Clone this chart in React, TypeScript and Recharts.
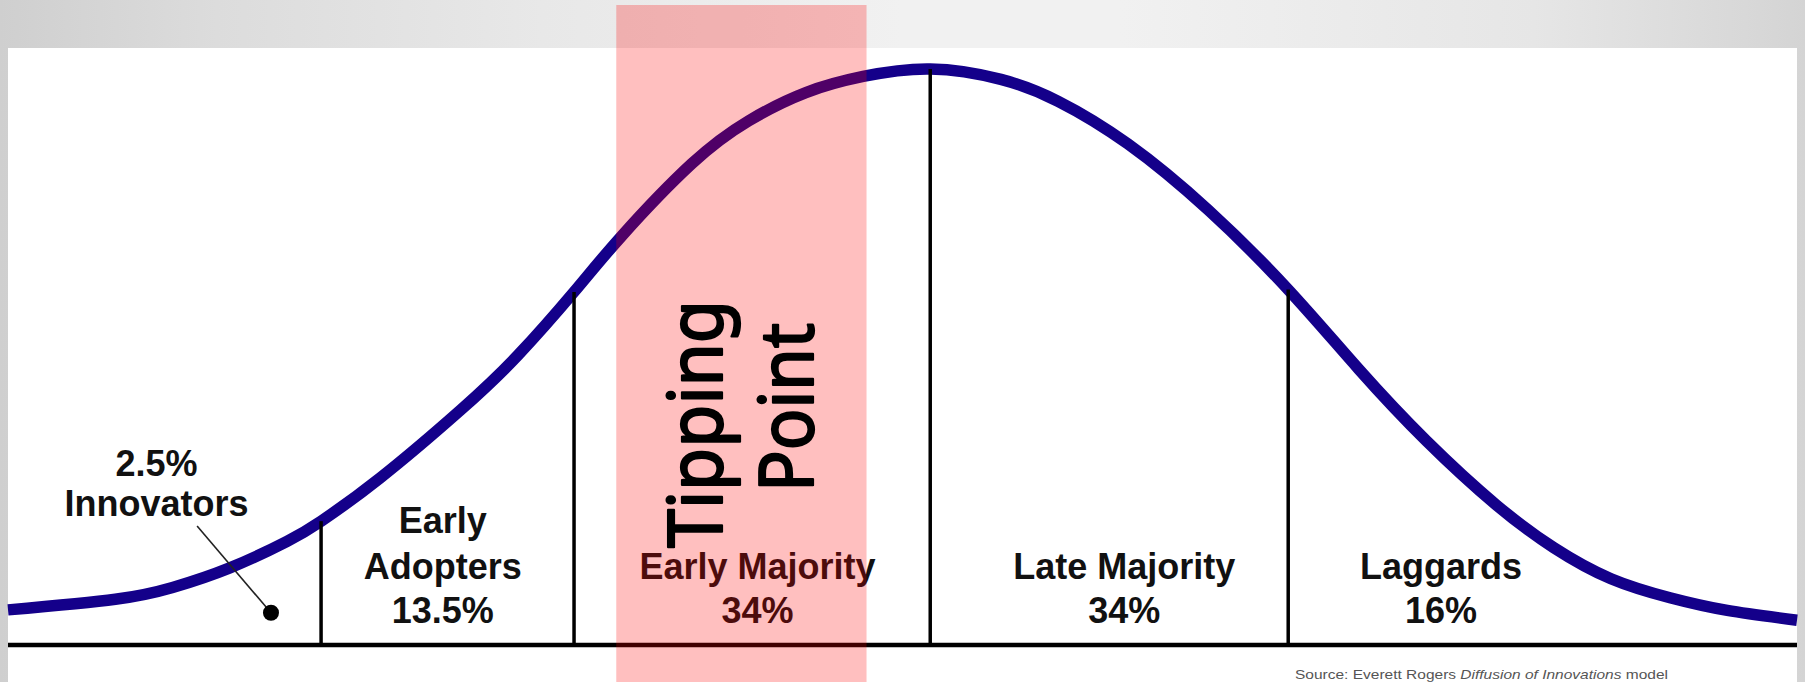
import React from 'react';
import { ComposedChart, Line, XAxis, YAxis, ReferenceLine, ReferenceArea, ReferenceDot } from 'recharts';

// Adoption curve (x: position along the adoption timeline 0-100, v: relative share, peak = 100)
const curveX = [0, 6, 9.2, 12.4, 15.6, 17.5, 20.8, 25.3, 28.5, 31.64, 34.3, 38.2, 41.4, 44.6, 47.8, 51.55, 55.5, 58.7, 62.6, 67.1, 71.56, 75.5, 79.3, 83.2, 86.4, 89.6, 92.9, 96.1, 100];
const curveV = [6.1, 7.95, 10.0, 13.4, 18.0, 21.5, 29.0, 40.8, 50.3, 61.3, 71.0, 83.5, 91.0, 95.9, 98.7, 100, 98.2, 94.4, 87.0, 75.5, 61.7, 47.9, 35.4, 24.3, 16.9, 11.5, 8.2, 6.0, 4.3];

// Segment boundaries along x
const boundaryX = [17.5, 31.64, 51.55, 71.56];

// Segments
const segmentNames = ['Innovators', 'Early Adopters', 'Early Majority', 'Late Majority', 'Laggards'];
const segmentShares = ['2.5%', '13.5%', '34%', '34%', '16%'];

// Tipping point band
const tippingBand = [34.0, 47.99];
const tippingText = ['Tipping', 'Point'];

const sourceText = ['Source: Everett Rogers ', 'Diffusion of Innovations', ' model'];

const data = curveX.map((x, i) => ({ x, v: curveV[i] }));

const X_MIN = -0.4472;
const X_MAX = 100.447;
const Y_MIN = -6.424;
const Y_MAX = 111.98;

const LABEL_FONT = "'Liberation Sans', Arial, Helvetica, sans-serif";
const TIP_FONT = "'Comic Sans MS', 'Noto Sans', sans-serif";

type Ann = { x: number; y: number; text: string };

// annotation anchors (text baselines) in chart units
const segmentLabels: Ann[] = [
  { x: 8.3, y: 29.3, text: segmentShares[0] },
  { x: 8.3, y: 22.4, text: segmentNames[0] },
  { x: 24.3, y: 19.4, text: 'Early' },
  { x: 24.3, y: 11.4, text: 'Adopters' },
  { x: 24.3, y: 3.8, text: segmentShares[1] },
  { x: 41.9, y: 11.4, text: segmentNames[2] },
  { x: 41.9, y: 3.8, text: segmentShares[2] },
  { x: 62.4, y: 11.4, text: segmentNames[3] },
  { x: 62.4, y: 3.8, text: segmentShares[3] },
  { x: 80.1, y: 11.4, text: segmentNames[4] },
  { x: 80.1, y: 3.8, text: segmentShares[4] },
];

const tipLabels = [
  { x: 39.91, y: 38.37, text: tippingText[0], len: 248 },
  { x: 45.0, y: 41.23, text: tippingText[1], len: 169 },
];

const topAt = (bx: number) => curveV[curveX.indexOf(bx)];

export default function App() {
  return (
    <div
      style={{
        position: 'absolute',
        left: 0,
        top: 0,
        width: 1805,
        height: 682,
        overflow: 'hidden',
        background:
          'linear-gradient(to right, #cfcfcf 0%, #dcdcdc 12%, #e8e8e8 30%, #f1f1f1 50%, #f1f1f1 62%, #e6e6e6 85%, #d4d4d4 100%)',
      }}
    >
      <div style={{ position: 'absolute', left: 8, top: 48, width: 1789, height: 634, background: '#ffffff' }} />
      <div style={{ position: 'absolute', left: 0, top: 0 }}>
        <ComposedChart width={1805} height={682} data={data} margin={{ top: 0, right: 0, bottom: 0, left: 0 }}>
          <XAxis type="number" dataKey="x" domain={[X_MIN, X_MAX]} hide allowDataOverflow />
          <YAxis type="number" domain={[Y_MIN, Y_MAX]} hide allowDataOverflow />

          <Line
            type="natural"
            dataKey="v"
            stroke="#14008a"
            strokeWidth={11.5}
            dot={false}
            activeDot={false}
            isAnimationActive={false}
            zIndex={400}
          />

          {boundaryX.map((bx) => (
            <ReferenceLine
              key={'b' + bx}
              segment={[{ x: bx, y: 0 }, { x: bx, y: topAt(bx) }]}
              stroke="#000"
              strokeWidth={3.5}
              ifOverflow="visible"
              zIndex={450}
            />
          ))}

          <ReferenceLine
            segment={[{ x: 0, y: 0 }, { x: 100, y: 0 }]}
            stroke="#000"
            strokeWidth={4.5}
            ifOverflow="visible"
            zIndex={450}
          />

          <ReferenceLine
            segment={[{ x: 10.57, y: 20.66 }, { x: 14.7, y: 5.6 }]}
            stroke="#222"
            strokeWidth={1.6}
            ifOverflow="visible"
            zIndex={450}
          />
          <ReferenceDot x={14.7} y={5.6} r={8} fill="#000" stroke="none" ifOverflow="visible" zIndex={460} />

          {segmentLabels.map((a, i) => (
            <ReferenceDot
              key={'l' + i}
              x={a.x}
              y={a.y}
              r={0}
              ifOverflow="visible"
              zIndex={500}
              shape={(p: any) => (
                <text
                  x={p.cx}
                  y={p.cy}
                  textAnchor="middle"
                  fontFamily={LABEL_FONT}
                  fontWeight="bold"
                  fontSize={36}
                  fill="#111"
                >
                  {a.text}
                </text>
              )}
            />
          ))}

          <ReferenceDot
            x={71.94}
            y={-5.9}
            r={0}
            ifOverflow="visible"
            zIndex={500}
            shape={(p: any) => (
              <text x={p.cx} y={p.cy} fontFamily={LABEL_FONT} fontSize={13.5} fill="#555" textLength={373} lengthAdjust="spacingAndGlyphs">
                <tspan>{sourceText[0]}</tspan>
                <tspan fontStyle="italic">{sourceText[1]}</tspan>
                <tspan>{sourceText[2]}</tspan>
              </text>
            )}
          />

          <ReferenceArea
            x1={tippingBand[0]}
            x2={tippingBand[1]}
            y1={Y_MIN}
            y2={111.1}
            fill="#ff0000"
            fillOpacity={0.25}
            stroke="none"
            ifOverflow="visible"
            zIndex={1000}
          />

          {tipLabels.map((a, i) => (
            <ReferenceDot
              key={'t' + i}
              x={a.x}
              y={a.y}
              r={0}
              ifOverflow="visible"
              zIndex={1100}
              shape={(p: any) => (
                <text
                  x={p.cx}
                  y={p.cy}
                  transform={`rotate(-90, ${p.cx}, ${p.cy})`}
                  textAnchor="middle"
                  fontFamily={TIP_FONT}
                  fontWeight={400}
                  fontSize={75}
                  fill="#000"
                  stroke="#000"
                  strokeWidth={2.2}
                  strokeLinejoin="round"
                  textLength={a.len}
                  lengthAdjust="spacingAndGlyphs"
                >
                  {a.text}
                </text>
              )}
            />
          ))}
        </ComposedChart>
      </div>
    </div>
  );
}
